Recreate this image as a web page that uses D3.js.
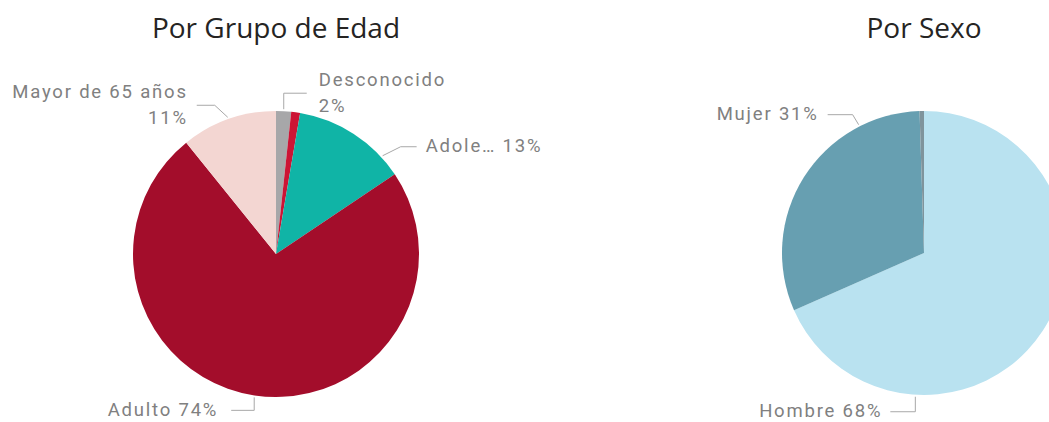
<!DOCTYPE html>
<html>
<head>
<meta charset="utf-8">
<script src="https://d3js.org/d3.v7.min.js"></script>
<style>
  body { margin: 0; background: #fff; }
  .title { font-family: "Open Sans", "Noto Sans", sans-serif; fill: #252423; }
  .lbl { font-family: Roboto, "Liberation Sans", sans-serif; fill: #808080; letter-spacing: 1.8px; }
  .leader { stroke: #a8a8a8; stroke-width: 1; fill: none; }
</style>
</head>
<body>
<script>
// --- data ---
var ageGroups = ["Desconocido", "Niño", "Adolescente", "Adulto", "Mayor de 65 años"];
var ageShown  = ["Desconocido", "", "Adole…", "Adulto", "Mayor de 65 años"];
var ageValues = [1.7, 1.0, 12.9, 73.6, 10.8];
var ageColors = ["#a7a7a9", "#cc1435", "#10b4a6", "#a30d2b", "#f3d6d2"];

var sexGroups = ["Hombre", "Mujer", "Desconocido"];
var sexShown  = ["Hombre", "Mujer", ""];
var sexValues = [68.4, 31.1, 0.5];
var sexColors = ["#b9e2f0", "#679fb1", "#7f949c"];

// label layout: anchor position inside slice, elbow offset, horizontal run, gap, one or two lines
var ageLayout = [
  {f: 0.5,  dx: 0,   dy: -16, run: 23,  gap: 12, two: true},
  null,
  {f: 0.81, dx: 18,  dy: -9,  run: 16,  gap: 9,  two: false},
  {f: 0.5,  dx: 0,   dy: 13,  run: -23, gap: 13, two: false},
  {f: 0.5,  dx: -13, dy: -12, run: -18, gap: 9,  two: true}
];
var sexLayout = [
  {f: 0.745, dx: 0,  dy: 15,  run: -25, gap: 8, two: false},
  {f: 0.775, dx: -6, dy: -10, run: -25, gap: 9, two: false},
  null
];

var width = 1049, height = 422;
var svg = d3.select("body").append("svg")
    .attr("width", width)
    .attr("height", height);

function drawPie(title, names, shown, values, colors, layout, cx, cy, r) {
  var g = svg.append("g");
  var total = d3.sum(values);
  var pct = d3.format(".0%");

  g.append("text")
      .attr("class", "title")
      .attr("x", cx)
      .attr("y", 38)
      .attr("text-anchor", "middle")
      .attr("font-size", 28)
      .text(title);

  var arcs = d3.pie().sort(null).value(d => d)(values);
  var arc = d3.arc().innerRadius(0).outerRadius(r);

  g.selectAll("path")
    .data(arcs)
    .enter().append("path")
      .attr("transform", "translate(" + cx + "," + cy + ")")
      .attr("d", arc)
      .attr("fill", (d, i) => colors[i]);

  arcs.forEach(function (d, i) {
    var L = layout[i];
    if (!L) return;
    var a = d.startAngle + L.f * (d.endAngle - d.startAngle);
    var p0 = [cx + (r + 2) * Math.sin(a), cy - (r + 2) * Math.cos(a)];
    var p1 = [p0[0] + L.dx, p0[1] + L.dy];
    var p2 = [p1[0] + L.run, p1[1]];
    g.append("path")
        .attr("class", "leader")
        .attr("d", d3.line()([p0, p1, p2]));

    var right = L.run > 0;
    var tx = p2[0] + (right ? L.gap : -L.gap);
    var label = pct(values[i] / total);
    var t = g.append("text")
        .attr("class", "lbl")
        .attr("font-size", 18.5)
        .attr("text-anchor", right ? "start" : "end");
    if (L.two) {
      t.append("tspan").attr("x", tx).attr("y", p2[1] - 7.5).text(shown[i]);
      t.append("tspan").attr("x", tx).attr("y", p2[1] + 18.5).text(label);
    } else {
      t.attr("x", tx).attr("y", p2[1] + 5.5).text(shown[i] + " " + label);
    }
  });
}

drawPie("Por Grupo de Edad", ageGroups, ageShown, ageValues, ageColors, ageLayout, 276, 254, 143);
drawPie("Por Sexo", sexGroups, sexShown, sexValues, sexColors, sexLayout, 924, 253, 142);
</script>
</body>
</html>
